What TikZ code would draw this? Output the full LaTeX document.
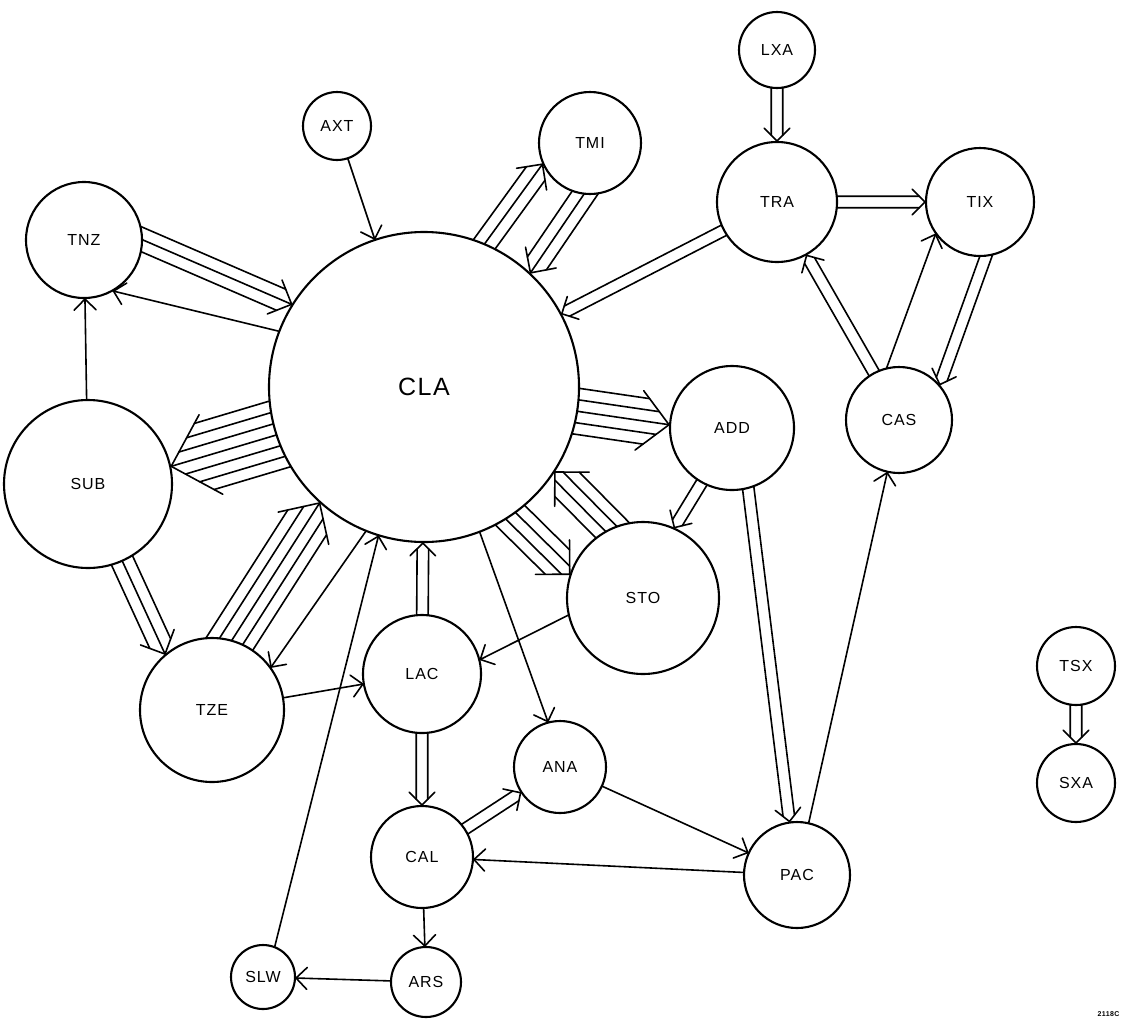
\documentclass[tikz,border=0pt]{standalone}
\usepackage{fontspec}
\setsansfont{Liberation Sans}[LetterSpace=6.0]
\usetikzlibrary{calc,backgrounds}
\tikzset{
  mod/.style={circle,draw,fill=white,line width=2.1pt,inner sep=0pt,
    font=\sffamily\fontsize{16}{16}\selectfont},
  big/.style={font=\sffamily\fontsize{25}{25}\selectfont},
  flowline/.style={line width=1.6pt,line cap=round,line join=miter}
}
% gap between the strands of a bundle (pt)
\newcommand\bgap{11.5}
% \flowarrow{strands}{from}{to}
\newcommand\flowarrow[3]{%
  \path (#2) -- (#3) coordinate[pos=0] (bs) coordinate[pos=1] (bt);
  \pgfmathsetmacro\bhalf{(#1-1)/2*\bgap}
  \pgfmathsetmacro\barm{1.414*(\bhalf+(#1==1?11:7))}
  \foreach \k in {1,...,#1}{
    \pgfmathsetmacro\boff{(\k-1)*\bgap-\bhalf}
    \pgfmathsetmacro\bback{1.414*abs(\boff)}
    \pgfmathsetmacro\bang{\boff<0?-45:45}
    \draw[flowline,shorten <=-20pt] ($(bs)!\boff pt!-90:(bt)$) -- ($(bt)!\bback pt!\bang:(bs)$);
  }
  \draw[flowline] ($(bt)!\barm pt!45:(bs)$) -- (bt) -- ($(bt)!\barm pt!-45:(bs)$);
}

\begin{document}
\begin{tikzpicture}[x=1pt,y=-1pt]
\useasboundingbox (0,0) rectangle (1123,1020);

\node[mod,big,minimum size=310pt] (cla) at (424,387) {CLA};
\node[mod,minimum size=68pt] (axt) at (337,126) {AXT};
\node[mod,minimum size=102pt] (tmi) at (590,143) {TMI};
\node[mod,minimum size=76pt] (lxa) at (777,50) {LXA};
\node[mod,minimum size=120pt] (tra) at (777,202) {TRA};
\node[mod,minimum size=108pt] (tix) at (980,202) {TIX};
\node[mod,minimum size=116pt] (tnz) at (84,240) {TNZ};
\node[mod,minimum size=168pt] (sub) at (88,484) {SUB};
\node[mod,minimum size=124pt] (add) at (732,428) {ADD};
\node[mod,minimum size=106pt] (cas) at (899,420) {CAS};
\node[mod,minimum size=152pt] (sto) at (643,598) {STO};
\node[mod,minimum size=144pt] (tze) at (212,710) {TZE};
\node[mod,minimum size=118pt] (lac) at (422,674) {LAC};
\node[mod,minimum size=92pt] (ana) at (560,767) {ANA};
\node[mod,minimum size=102pt] (cal) at (422,857) {CAL};
\node[mod,minimum size=106pt] (pac) at (797,875) {PAC};
\node[mod,minimum size=64pt] (slw) at (263,977) {SLW};
\node[mod,minimum size=70pt] (ars) at (426,982) {ARS};
\node[mod,minimum size=78pt] (tsx) at (1076,666) {TSX};
\node[mod,minimum size=78pt] (sxa) at (1076,783) {SXA};
\node[anchor=east,font=\sffamily\bfseries\fontsize{7}{7}\selectfont] (tag) at (1123,1014) {2118C};

\begin{scope}[on background layer]
  \flowarrow{1}{axt}{cla}
  \flowarrow{3}{cla.67}{tmi.204}
  \flowarrow{3}{tmi.263}{cla.47}
  \flowarrow{2}{tra.208}{cla.28}
  \flowarrow{2}{lxa}{tra}
  \flowarrow{2}{tra}{tix}
  \flowarrow{2}{cas.118}{tra.-61}
  \flowarrow{1}{cas.103}{tix.216}
  \flowarrow{2}{tix.-84}{cas.41}
  \flowarrow{1}{pac}{cas}
  \flowarrow{3}{tnz.0}{cla.148}
  \flowarrow{1}{cla.159}{tnz.-60}
  \flowarrow{1}{sub}{tnz}
  \flowarrow{7}{cla.198}{sub.12}
  \flowarrow{3}{sub.-66}{tze.130}
  \flowarrow{5}{tze.74}{cla.228}
  \flowarrow{1}{cla.248}{tze.36}
  \flowarrow{1}{tze}{lac}
  \flowarrow{1}{slw.69}{cla.253}
  \flowarrow{2}{lac}{cla}
  \flowarrow{5}{cla.-9}{add.177}
  \flowarrow{4}{sto.115}{cla.-33}
  \flowarrow{4}{cla.-56}{sto.162}
  \flowarrow{2}{add.-119}{sto.66}
  \flowarrow{2}{add.-75}{pac.98}
  \flowarrow{1}{sto.193}{lac.14}
  \flowarrow{1}{cla.-69}{ana.105}
  \flowarrow{2}{lac}{cal}
  \flowarrow{2}{cal}{ana}
  \flowarrow{1}{ana}{pac}
  \flowarrow{1}{pac}{cal}
  \flowarrow{1}{cal}{ars}
  \flowarrow{1}{ars}{slw}
  \flowarrow{2}{tsx}{sxa}
\end{scope}
\end{tikzpicture}
\end{document}
